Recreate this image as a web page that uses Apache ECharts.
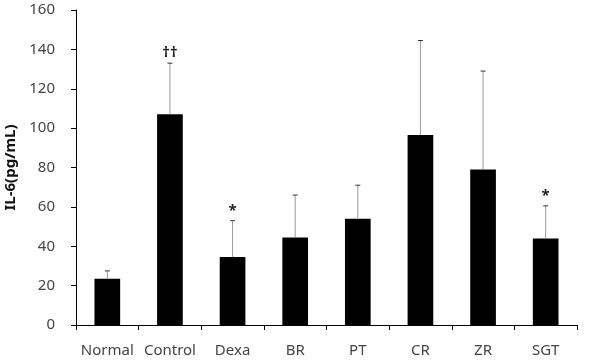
<!DOCTYPE html>
<html>
<head>
<meta charset="utf-8">
<script src="https://cdn.jsdelivr.net/npm/echarts@6/dist/echarts.min.js"></script>
<style>
  html, body { margin: 0; padding: 0; background: #fff; }
  #chart { width: 609px; height: 360px; }
</style>
</head>
<body>
<div id="chart"></div>
<script>
// values
const categories = ['Normal', 'Control', 'Dexa', 'BR', 'PT', 'CR', 'ZR', 'SGT'];
const means = [23.5, 107, 34.5, 44.5, 54, 96.5, 79, 44];
const errTops = [27.5, 133, 53, 66, 71, 144.5, 129, 60.5];
const marks = ['', '††', '*', '', '', '', '', '*'];
const yTicks = [0, 20, 40, 60, 80, 100, 120, 140, 160];

const chart = echarts.init(document.getElementById('chart'));

const errData = categories.map((c, i) => [i, means[i], errTops[i]]);

const opts = {
  animation: false,
  grid: { left: 76, right: 32, top: 10, bottom: 35, outerBoundsMode: 'none', containLabel: false },
  xAxis: {
    type: 'category',
    data: categories,
    axisLine: { lineStyle: { color: '#000', width: 1 } },
    axisTick: { show: true, length: 5, lineStyle: { color: '#000' } },
    axisLabel: {
      color: '#444',
      fontSize: 15,
      fontFamily: 'Noto Sans',
      margin: 18,
      interval: 0,
    },
  },
  yAxis: {
    type: 'value',
    min: yTicks[0],
    max: yTicks[yTicks.length - 1],
    interval: 20,
    name: 'IL-6(pg/mL)',
    nameLocation: 'middle',
    nameGap: 58,
    nameRotate: 90,
    nameTextStyle: {
      color: '#111',
      fontSize: 15,
      fontWeight: 'bold',
      fontFamily: 'Noto Sans',
    },
    axisLine: { show: true, lineStyle: { color: '#000', width: 1 } },
    axisTick: { show: true, length: 5, lineStyle: { color: '#000' } },
    splitLine: { show: false },
    axisLabel: {
      color: '#444',
      fontSize: 15,
      fontFamily: 'Noto Sans',
      margin: 21,
    },
  },
  series: [
    {
      type: 'bar',
      data: means,
      barWidth: '41%',
      itemStyle: { color: '#000' },
      z: 2,
    },
    {
      type: 'custom',
      data: errData,
      z: 3,
      renderItem(params, api) {
        const x = api.coord([api.value(0), 0])[0];
        const yMean = api.coord([api.value(0), api.value(1)])[1];
        const yTop = api.coord([api.value(0), api.value(2)])[1];
        const mark = marks[params.dataIndex];
        const children = [
          {
            type: 'line',
            shape: { x1: x, y1: yMean, x2: x, y2: yTop },
            style: { stroke: '#999', lineWidth: 1 },
          },
          {
            type: 'line',
            shape: { x1: x - 2.5, y1: yTop, x2: x + 2.5, y2: yTop },
            style: { stroke: '#333', lineWidth: 1 },
          },
        ];
        if (mark) {
          children.push({
            type: 'text',
            style: {
              x: x,
              y: yTop - 10,
              text: mark,
              align: 'center',
              verticalAlign: 'middle',
              fill: '#222',
              font: 'bold 15px "Noto Sans"',
            },
          });
        }
        return { type: 'group', children };
      },
    },
  ],
};

chart.setOption(opts);
</script>
</body>
</html>
